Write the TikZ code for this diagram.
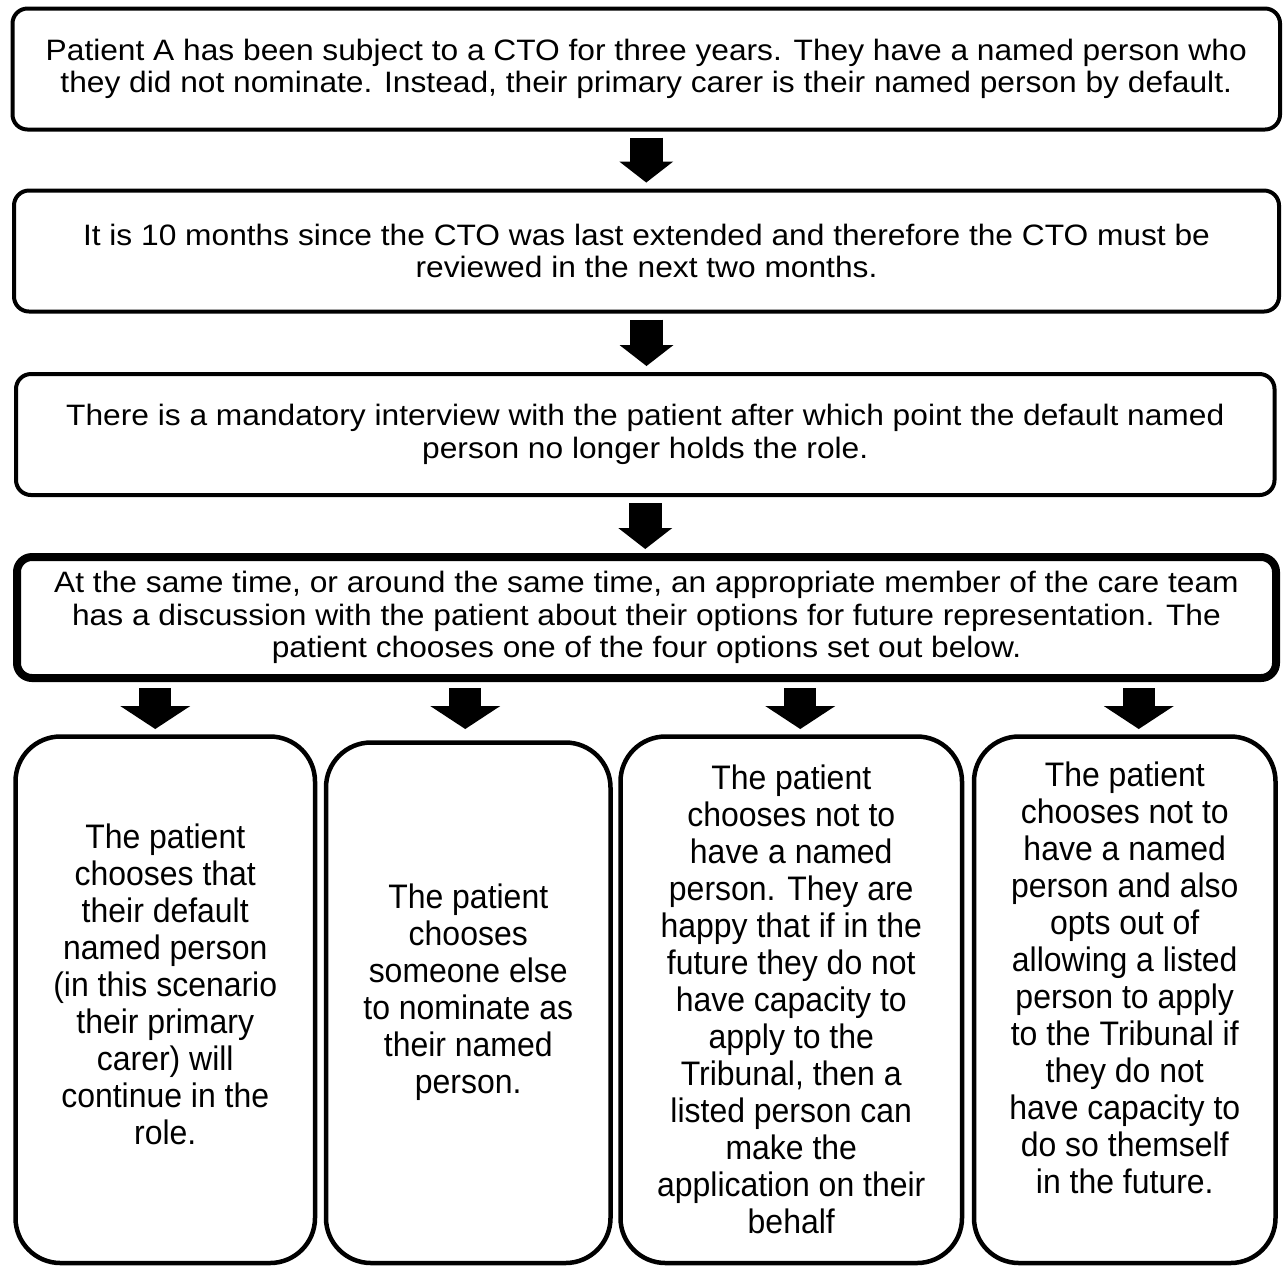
\documentclass[tikz,border=0pt]{standalone}
\usepackage{fontspec}
\setmainfont{Liberation Sans}
\newfontfamily\stagefont[FakeStretch=1.075]{Liberation Sans}
\newfontfamily\optionfont[FakeStretch=0.94]{Liberation Sans}
\usetikzlibrary{arrows.meta}

\begin{document}
\begin{tikzpicture}[x=0.5pt, y=-0.5pt,
	stage/.style={draw=black, line width=2pt, rounded corners=7.5pt, outer sep=0pt, inner sep=0pt, align=center, minimum height=60.5pt, font=\stagefont\fontsize{14.75pt}{16.25pt}\selectfont},
	option/.style={draw=black, line width=2.25pt, rounded corners=22.5pt, outer sep=0pt, inner sep=0pt},
	optiontext/.style={align=center, inner sep=0pt, font=\optionfont\fontsize{17pt}{18.5pt}\selectfont},
	blockdown/.style={line width=16.5pt, -{Triangle[width=27pt, length=10.5pt, line width=0pt]}, shorten <=4pt, shorten >=4pt},
	fanout/.style={line width=16pt, -{Triangle[width=35pt, length=11.5pt, line width=0pt]}, shorten <=5pt}]
	\useasboundingbox (0,0) rectangle (1284,1266);
	\node (S1) at (646.25, 69)	[stage, minimum width=633.75pt]	{Patient A has been subject to a CTO for three years. They have a named person who\\ they did not nominate. Instead, their primary carer is their named person by default.};
	\node (S2) at (646.5, 251)	[stage, minimum width=632.5pt]	{It is 10 months since the CTO was last extended and therefore the CTO must be\\ reviewed in the next two months.};
	\node (S3) at (645.25, 434.5)	[stage, minimum width=629.25pt]	{There is a mandatory interview with the patient after which point the default named\\ person no longer holds the role.};
	\node (S4) at (646.5, 617.5)	[stage, line width=4pt, minimum width=629.5pt]	{At the same time, or around the same time, an appropriate member of the care team\\ has a discussion with the patient about their options for future representation. The\\ patient chooses one of the four options set out below.};
	\node (O1) at (165.25, 999.75)	[option, minimum width=149.75pt, minimum height=263.25pt]	{};
	\node (O2) at (468.25, 1002.75)	[option, minimum width=142.25pt, minimum height=260.25pt]	{};
	\node (O3) at (791.25, 999.75)	[option, minimum width=170.75pt, minimum height=263.25pt]	{};
	\node (O4) at (1124.75, 999.75)	[option, minimum width=150.75pt, minimum height=263.25pt]	{};
	\node (T1) at ([yshift=7.5pt]O1.center)	[optiontext]	{The patient\\ chooses that\\ their default\\ named person\\ (in this scenario\\ their primary\\ carer) will\\ continue in the\\ role.};
	\node (T2) at ([yshift=5.5pt]O2.center)	[optiontext]	{The patient\\ chooses\\ someone else\\ to nominate as\\ their named\\ person.};
	\node (T3) at (O3.center)	[optiontext]	{The patient\\ chooses not to\\ have a named\\ person. They are\\ happy that if in the\\ future they do not\\ have capacity to\\ apply to the\\ Tribunal, then a\\ listed person can\\ make the\\ application on their\\ behalf};
	\node (T4) at ([yshift=11pt]O4.center)	[optiontext]	{The patient\\ chooses not to\\ have a named\\ person and also\\ opts out of\\ allowing a listed\\ person to apply\\ to the Tribunal if\\ they do not\\ have capacity to\\ do so themself\\ in the future.};
	\draw[blockdown] (S1.south) -- (S1.south |- S2.north);
	\draw[blockdown] (S2.south) -- (S2.south |- S3.north);
	\draw[blockdown] (S3.south) -- (S3.south |- S4.north);
	\draw[fanout, shorten >=3.75pt] ([xshift=-5pt]S4.south -| O1.north) -- ([xshift=-5pt]O1.north);
	\draw[fanout, shorten >=6.75pt] ([xshift=-1.5pt]S4.south -| O2.north) -- ([xshift=-1.5pt]O2.north);
	\draw[fanout, shorten >=3.75pt] ([xshift=4.5pt]S4.south -| O3.north) -- ([xshift=4.5pt]O3.north);
	\draw[fanout, shorten >=3.75pt] ([xshift=7pt]S4.south -| O4.north) -- ([xshift=7pt]O4.north);
\end{tikzpicture}
\end{document}
